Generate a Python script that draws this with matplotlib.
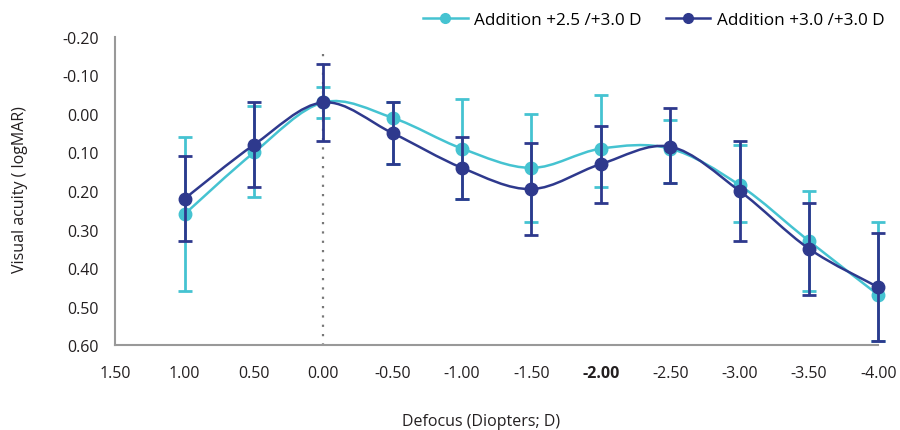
import numpy as np
import matplotlib.pyplot as plt
from matplotlib.path import Path
from matplotlib.patches import PathPatch
from matplotlib.lines import Line2D

plt.rcParams['font.family'] = ['Open Sans', 'DejaVu Sans']

defocus = [1.0, 0.5, 0.0, -0.5, -1.0, -1.5, -2.0, -2.5, -3.0, -3.5, -4.0]
xtick_labels = ["1.50", "1.00", "0.50", "0.00", "-0.50", "-1.00", "-1.50",
                "-2.00", "-2.50", "-3.00", "-3.50", "-4.00"]

# Addition +2.5 /+3.0 D
va_a = [0.26, 0.10, -0.03, 0.01, 0.09, 0.14, 0.09, 0.09, 0.185, 0.33, 0.47]
lo_a = [0.06, -0.02, -0.07, -0.03, -0.04, 0.00, -0.05, 0.015, 0.08, 0.20, 0.28]
hi_a = [0.46, 0.215, 0.01, 0.13, 0.22, 0.28, 0.19, 0.18, 0.28, 0.46, 0.59]

# Addition +3.0 /+3.0 D
va_b = [0.22, 0.08, -0.03, 0.05, 0.14, 0.195, 0.13, 0.085, 0.20, 0.35, 0.45]
lo_b = [0.11, -0.03, -0.13, -0.03, 0.06, 0.075, 0.03, -0.015, 0.07, 0.23, 0.31]
hi_b = [0.33, 0.19, 0.07, 0.13, 0.22, 0.315, 0.23, 0.18, 0.33, 0.47, 0.59]

teal = "#45C3D1"
navy = "#2E398D"


def smooth_path(x, y, t=0.5):
    # Catmull-Rom through the points, written as cubic Bezier segments
    x = np.asarray(x, float)
    y = np.asarray(y, float)
    verts = [(x[0], y[0])]
    codes = [Path.MOVETO]
    n = len(x)
    for i in range(n - 1):
        p0 = np.array([x[max(i - 1, 0)], y[max(i - 1, 0)]])
        p1 = np.array([x[i], y[i]])
        p2 = np.array([x[i + 1], y[i + 1]])
        p3 = np.array([x[min(i + 2, n - 1)], y[min(i + 2, n - 1)]])
        c1 = p1 + (p2 - p0) * t / 3
        c2 = p2 - (p3 - p1) * t / 3
        verts += [tuple(c1), tuple(c2), tuple(p2)]
        codes += [Path.CURVE4] * 3
    return Path(verts, codes)


fig = plt.figure(figsize=(9, 4.31), dpi=100)
ax = fig.add_axes([0.128, 0.197, 0.848, 0.715])

ax.plot([0, 0], [-0.155, 0.6], color="#777777", linestyle=(0, (1, 3.2)),
        linewidth=1.6, zorder=1)

for va, lo, hi, col, z in [(va_a, lo_a, hi_a, teal, 2), (va_b, lo_b, hi_b, navy, 3)]:
    va = np.array(va)
    yerr = [va - np.array(lo), np.array(hi) - va]
    ax.add_patch(PathPatch(smooth_path(defocus, va), facecolor="none",
                           edgecolor=col, linewidth=1.8, zorder=z, clip_on=False))
    _, caps, bars = ax.errorbar(defocus, va, yerr=yerr, fmt="o", color=col,
                                ecolor=col, markersize=9, elinewidth=2,
                                capsize=5, capthick=2, zorder=z, clip_on=False)
    for c in caps:
        c.set_clip_on(False)
    for b in bars:
        b.set_clip_on(False)

ax.set_xlim(1.5, -4.0)
ax.set_ylim(0.6, -0.2)
ax.set_xticks(np.arange(1.5, -4.01, -0.5))
ax.set_xticklabels(xtick_labels)
ax.set_yticks(np.arange(-0.2, 0.61, 0.1))
ax.set_yticklabels([f"{v:.2f}" for v in np.arange(-0.2, 0.61, 0.1)])
ax.tick_params(length=0, labelsize=11.5, colors="#231f20", pad=14)
ax.tick_params(axis="y", pad=12)
ax.get_xticklabels()[7].set_fontweight("bold")

for s in ["top", "right"]:
    ax.spines[s].set_visible(False)
for s in ["left", "bottom"]:
    ax.spines[s].set_color("#999999")
    ax.spines[s].set_linewidth(1.5)

fig.text(0.535, 0.022, "Defocus (Diopters; D)", ha="center", va="center",
         fontsize=11.5, color="#231f20")
fig.text(0.022, 0.56, "Visual acuity ( logMAR)", ha="center", va="center",
         rotation=90, fontsize=11.5, color="#231f20")

handles = [Line2D([], [], color=teal, marker="o", markersize=7, linewidth=1.8),
           Line2D([], [], color=navy, marker="o", markersize=7, linewidth=1.8)]
fig.legend(handles, ["Addition +2.5 /+3.0 D", "Addition +3.0 /+3.0 D"],
           loc="upper right", bbox_to_anchor=(1.0, 1.005), ncol=2,
           frameon=False, fontsize=12.3, handlelength=2.6, handletextpad=0.4,
           columnspacing=1.4)

fig.savefig("out.png", dpi=100)
